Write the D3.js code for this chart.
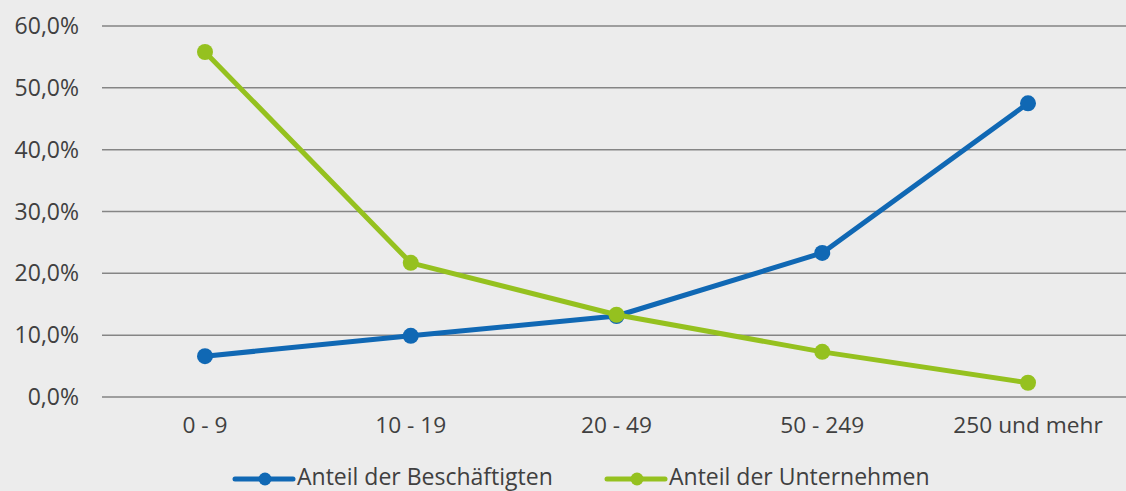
<!DOCTYPE html>
<html>
<head>
<meta charset="utf-8">
<script src="https://cdn.jsdelivr.net/npm/d3@7"></script>
<style>
  body { margin: 0; background: #ececec; }
  svg { display: block; }
  text { font-family: "Open Sans", "Noto Sans", sans-serif; fill: #404040; }
</style>
</head>
<body>
<div id="chart"></div>
<script>
// categories and series (percent)
var categories = ["0 - 9", "10 - 19", "20 - 49", "50 - 249", "250 und mehr"];
var beschaeftigte = [6.6, 9.9, 13.1, 23.3, 47.5];
var unternehmen = [55.8, 21.7, 13.3, 7.3, 2.3];
var yTicks = [0, 10, 20, 30, 40, 50, 60];
var seriesNames = ["Anteil der Beschäftigten", "Anteil der Unternehmen"];

var width = 1126, height = 491;
var blue = "#1068b4", green = "#95c11f";

var svg = d3.select("#chart").append("svg")
  .attr("width", width)
  .attr("height", height);

svg.append("rect").attr("width", width).attr("height", height).attr("fill", "#ececec");

var x = d3.scalePoint()
  .domain(categories)
  .range([205, 1028]);

var y = d3.scaleLinear()
  .domain([0, 60])
  .range([397, 26]);

var fmt = function(d) { return d3.format(".1f")(d).replace(".", ",") + "%"; };

// grid lines
svg.append("g")
  .selectAll("line")
  .data(yTicks)
  .enter().append("line")
  .attr("x1", 102).attr("x2", width)
  .attr("y1", d => y(d)).attr("y2", d => y(d))
  .attr("stroke", "#858585")
  .attr("stroke-width", 1.5);

// y labels
svg.append("g")
  .selectAll("text")
  .data(yTicks)
  .enter().append("text")
  .attr("x", 79)
  .attr("y", d => y(d))
  .attr("dy", "0.35em")
  .attr("text-anchor", "end")
  .style("font-size", "23px")
  .text(fmt);

// x labels
svg.append("g")
  .selectAll("text")
  .data(categories)
  .enter().append("text")
  .attr("x", d => x(d))
  .attr("y", 425)
  .attr("dy", "0.35em")
  .attr("text-anchor", "middle")
  .style("font-size", "22.7px")
  .text(d => d);

var line = d3.line()
  .x((d, i) => x(categories[i]))
  .y(d => y(d));

function drawSeries(values, color) {
  var g = svg.append("g");
  g.append("path")
    .datum(values)
    .attr("d", line)
    .attr("fill", "none")
    .attr("stroke", color)
    .attr("stroke-width", 5)
    .attr("stroke-linejoin", "round");
  g.selectAll("circle")
    .data(values)
    .enter().append("circle")
    .attr("cx", (d, i) => x(categories[i]))
    .attr("cy", d => y(d))
    .attr("r", 8)
    .attr("fill", color);
}

drawSeries(beschaeftigte, blue);
drawSeries(unternehmen, green);

// legend
var legendItems = [
  { name: seriesNames[0], color: blue, x: 235 },
  { name: seriesNames[1], color: green, x: 607 }
];
var lg = svg.append("g").selectAll("g")
  .data(legendItems)
  .enter().append("g")
  .attr("transform", d => "translate(" + d.x + ",479)");
lg.append("line")
  .attr("x1", 0).attr("x2", 58)
  .attr("stroke", d => d.color)
  .attr("stroke-width", 5)
  .attr("stroke-linecap", "round");
lg.append("circle")
  .attr("cx", 30).attr("r", 6.5)
  .attr("fill", d => d.color);
lg.append("text")
  .attr("x", 62)
  .attr("y", -2)
  .attr("dy", "0.35em")
  .style("font-size", "23px")
  .text(d => d.name);
</script>
</body>
</html>
